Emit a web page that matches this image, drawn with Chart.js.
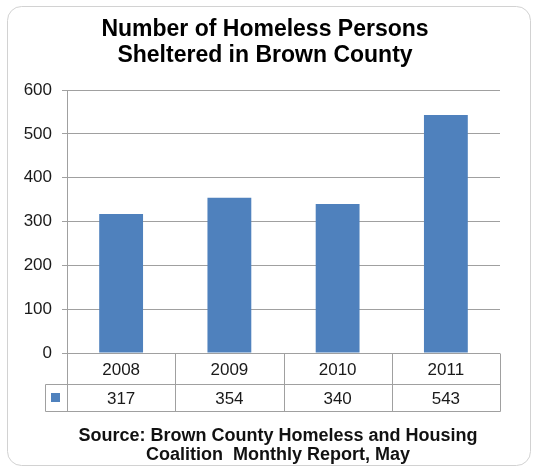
<!DOCTYPE html>
<html>
<head>
<meta charset="utf-8">
<script src="https://cdn.jsdelivr.net/npm/chart.js@4/dist/chart.umd.min.js"></script>
<style>
  html, body { margin: 0; padding: 0; background: #ffffff; }
  #wrap { width: 535px; height: 468px; }
</style>
</head>
<body>
<div id="wrap"><canvas id="c" width="535" height="468"></canvas></div>
<script>
const categories = ['2008', '2009', '2010', '2011'];
const sheltered = [317, 354, 340, 543];
const yTicks = [0, 100, 200, 300, 400, 500, 600];
const titleLines = ['Number of Homeless Persons', 'Sheltered in Brown County'];
const sourceLines = ['Source: Brown County Homeless and Housing', 'Coalition  Monthly Report, May'];

const BAR = '#4F81BD';
const LINE = '#a0a0a0';
const FONT = 'Arial, "Liberation Sans", sans-serif';

const framePlugin = {
  id: 'frame',
  beforeDraw(chart) {
    const ctx = chart.ctx;
    ctx.save();
    ctx.fillStyle = '#ffffff';
    ctx.fillRect(0, 0, chart.width, chart.height);
    const x = 7.5, y = 6.5, w = 523, h = 459, r = 14;
    ctx.beginPath();
    ctx.moveTo(x + r, y);
    ctx.arcTo(x + w, y, x + w, y + h, r);
    ctx.arcTo(x + w, y + h, x, y + h, r);
    ctx.arcTo(x, y + h, x, y, r);
    ctx.arcTo(x, y, x + w, y, r);
    ctx.closePath();
    ctx.strokeStyle = '#d2d2d2';
    ctx.lineWidth = 1;
    ctx.stroke();
    ctx.restore();
  },
  afterLayout(chart) {
    // let the y tick labels use the space left of the axis box (no clipping)
    chart.scales.y.left = 0;
  }
};

const tablePlugin = {
  id: 'dataTable',
  afterDraw(chart) {
    const ctx = chart.ctx;
    const xs = chart.scales.x;
    const area = chart.chartArea;
    const n = categories.length;
    const half = (area.right - area.left) / n / 2;
    const top = Math.round(area.bottom) + 0.5;
    const mid = top + 31;
    const bot = mid + 27;
    const legendLeft = 45.5;
    ctx.save();
    ctx.strokeStyle = LINE;
    ctx.lineWidth = 1;
    ctx.beginPath();
    ctx.moveTo(legendLeft, mid); ctx.lineTo(Math.round(area.right) + 0.5, mid);
    ctx.moveTo(legendLeft, bot); ctx.lineTo(Math.round(area.right) + 0.5, bot);
    ctx.moveTo(legendLeft, mid); ctx.lineTo(legendLeft, bot);
    for (let i = 0; i <= n; i++) {
      const px = i < n ? xs.getPixelForValue(i) - half : xs.getPixelForValue(n - 1) + half;
      const vx = Math.round(px) + 0.5;
      ctx.moveTo(vx, top); ctx.lineTo(vx, bot);
    }
    ctx.stroke();
    ctx.fillStyle = '#1a1a1a';
    ctx.font = '17px ' + FONT;
    ctx.textAlign = 'center';
    ctx.textBaseline = 'middle';
    for (let i = 0; i < n; i++) {
      const cx = xs.getPixelForValue(i);
      ctx.fillText(categories[i], cx, (top + mid) / 2 + 1);
      ctx.fillText(String(sheltered[i]), cx, (mid + bot) / 2 + 1);
    }
    ctx.fillStyle = BAR;
    ctx.fillRect(51, Math.round((mid + bot) / 2) - 5, 9, 9);
    ctx.fillStyle = '#111111';
    ctx.font = 'bold 18px ' + FONT;
    sourceLines.forEach((t, k) => ctx.fillText(t, 278, 436 + k * 19));
    ctx.restore();
  }
};

new Chart(document.getElementById('c'), {
  type: 'bar',
  data: {
    labels: categories,
    datasets: [{
      data: sheltered,
      backgroundColor: BAR,
      borderWidth: 0,
      barPercentage: 0.405,
      categoryPercentage: 1.0
    }]
  },
  options: {
    responsive: false,
    animation: false,
    devicePixelRatio: 1,
    layout: { padding: { left: 30, right: 35, top: 0, bottom: 115 } },
    plugins: {
      legend: { display: false },
      tooltip: { enabled: false },
      title: {
        display: true,
        text: titleLines,
        color: '#000000',
        font: { family: FONT, size: 23, weight: 'bold', lineHeight: 26 / 23 },
        padding: { top: 17, bottom: 21 }
      }
    },
    scales: {
      x: { display: false },
      y: {
        min: 0,
        max: 600,
        afterBuildTicks(scale) { scale.ticks = yTicks.map(v => ({ value: v })); },
        afterFit(scale) { scale.width = 37; },
        border: { display: true, color: LINE, width: 1 },
        grid: { color: LINE, lineWidth: 1, tickLength: 5, drawTicks: true },
        ticks: {
          color: '#1a1a1a',
          padding: 10,
          font: { family: FONT, size: 17 }
        }
      }
    }
  },
  plugins: [framePlugin, tablePlugin]
});
</script>
</body>
</html>
